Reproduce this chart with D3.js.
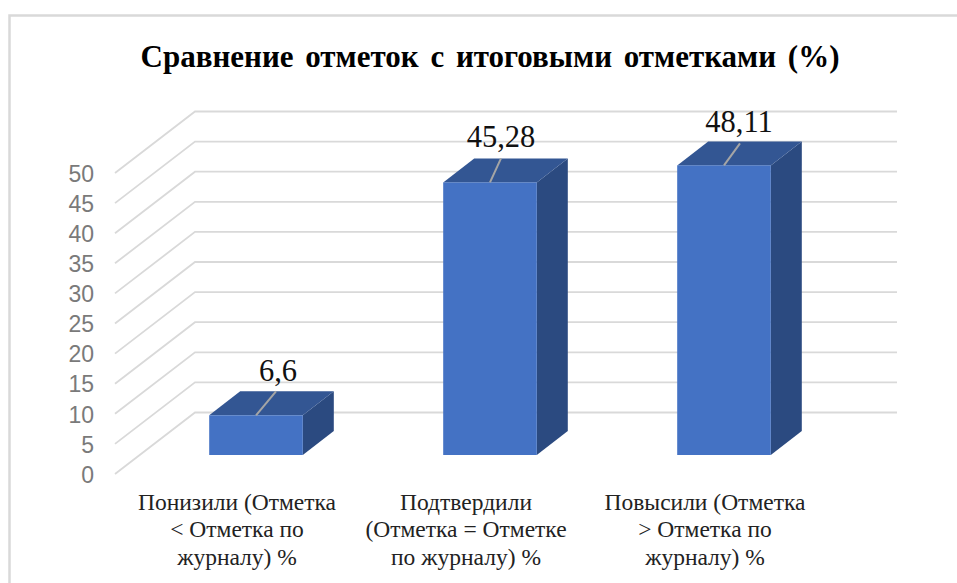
<!DOCTYPE html>
<html><head><meta charset="utf-8">
<script src="https://cdn.jsdelivr.net/npm/d3@7/dist/d3.min.js"></script>
<style>html,body{margin:0;padding:0;background:#fff}svg{display:block}</style></head>
<body><svg id="c" width="957" height="583"></svg>
<script>
const titleText = "Сравнение отметок с итоговыми отметками (%)";
const categories = ["Понизили", "Подтвердили", "Повысили"];
const values = [6.6, 45.28, 48.11];
const valueLabels = ["6,6", "45,28", "48,11"];
const categoryLines = [
  ["Понизили (Отметка", "< Отметка по", "журналу) %"],
  ["Подтвердили", "(Отметка = Отметке", "по журналу) %"],
  ["Повысили (Отметка", "> Отметка по", "журналу) %"]
];
const tickValues = [0,5,10,15,20,25,30,35,40,45,50];

const svg = d3.select("#c");
const serif = "'Liberation Serif','Times New Roman',serif";

// frame
svg.append("path").attr("d","M9.5,583V15.5H957").attr("fill","none").attr("stroke","#d9d9d9").attr("stroke-width",2.5);

// title
svg.append("text").attr("x",490).attr("y",67).attr("text-anchor","middle")
  .attr("font-family",serif).attr("font-weight",700).attr("font-size",31).attr("word-spacing",4)
  .attr("fill","#000").text(titleText);

// scales
const y = d3.scaleLinear().domain([0,50]).range([474,173]);
const x = d3.scaleBand().domain(categories).range([139,841]).paddingInner(0.6).paddingOuter(0.3);
const wall = {dx:80, dy:-61.5, right:897};

// gridlines
const grid = svg.append("g").attr("fill","none").attr("stroke","#d9d9d9").attr("stroke-width",1.8);
tickValues.forEach(t=>{
  const y0=y(t);
  grid.append("path").attr("d",`M115,${y0}L${115+wall.dx},${y0+wall.dy}H${wall.right}`);
});

// y axis
const axis = svg.append("g").attr("transform","translate(94,0)")
  .call(d3.axisLeft(y).tickValues(tickValues).tickSize(0).tickPadding(0));
axis.select(".domain").remove();
axis.selectAll("text").attr("font-family","'Liberation Sans',Arial,sans-serif")
  .attr("font-size",23).attr("fill","#7a7a7a").attr("dy","0.36em");

// bars
const floorShift = y(0)-455, dep = {dx:31, dy:-24};
const bars = svg.append("g").selectAll("g").data(categories).join("g");
bars.each(function(c,i){
  const g=d3.select(this), l=x(c), w=x.bandwidth(), r=l+w, b=y(0)-floorShift, t=y(values[i])-floorShift;
  g.append("path").attr("fill","#2b4a80").attr("d",`M${r},${b}V${t}l${dep.dx},${dep.dy}V${b+dep.dy}Z`);
  g.append("path").attr("fill","#335693").attr("d",`M${l},${t}l${dep.dx},${dep.dy}H${r+dep.dx}L${r},${t}Z`);
  g.append("rect").attr("x",l).attr("y",t).attr("width",w).attr("height",b-t).attr("fill","#4472c4");
  const lab=[{x:20,y:-24,tx:22,ty:-34},{x:11,y:-24,tx:11,ty:-35},{x:16,y:-22,tx:15,ty:-33}][i];
  const cx=l+w/2;
  g.append("line").attr("x1",cx).attr("y1",t).attr("x2",cx+lab.x).attr("y2",t+lab.y)
    .attr("stroke","#a5a5a5").attr("stroke-width",2);
  g.append("text").attr("x",cx+lab.tx).attr("y",t+lab.ty).attr("text-anchor","middle")
    .attr("font-family",serif).attr("font-size",30.5).attr("fill","#111").text(valueLabels[i]);
});

// category labels
const labelCenters = [237,466,705], lineY=[510,537,565];
categoryLines.forEach((ls,i)=>ls.forEach((s,j)=>{
  svg.append("text").attr("x",labelCenters[i]).attr("y",lineY[j]).attr("text-anchor","middle")
    .attr("font-family",serif).attr("font-size",23.5).attr("fill","#222").text(s);
}));
</script></body></html>
